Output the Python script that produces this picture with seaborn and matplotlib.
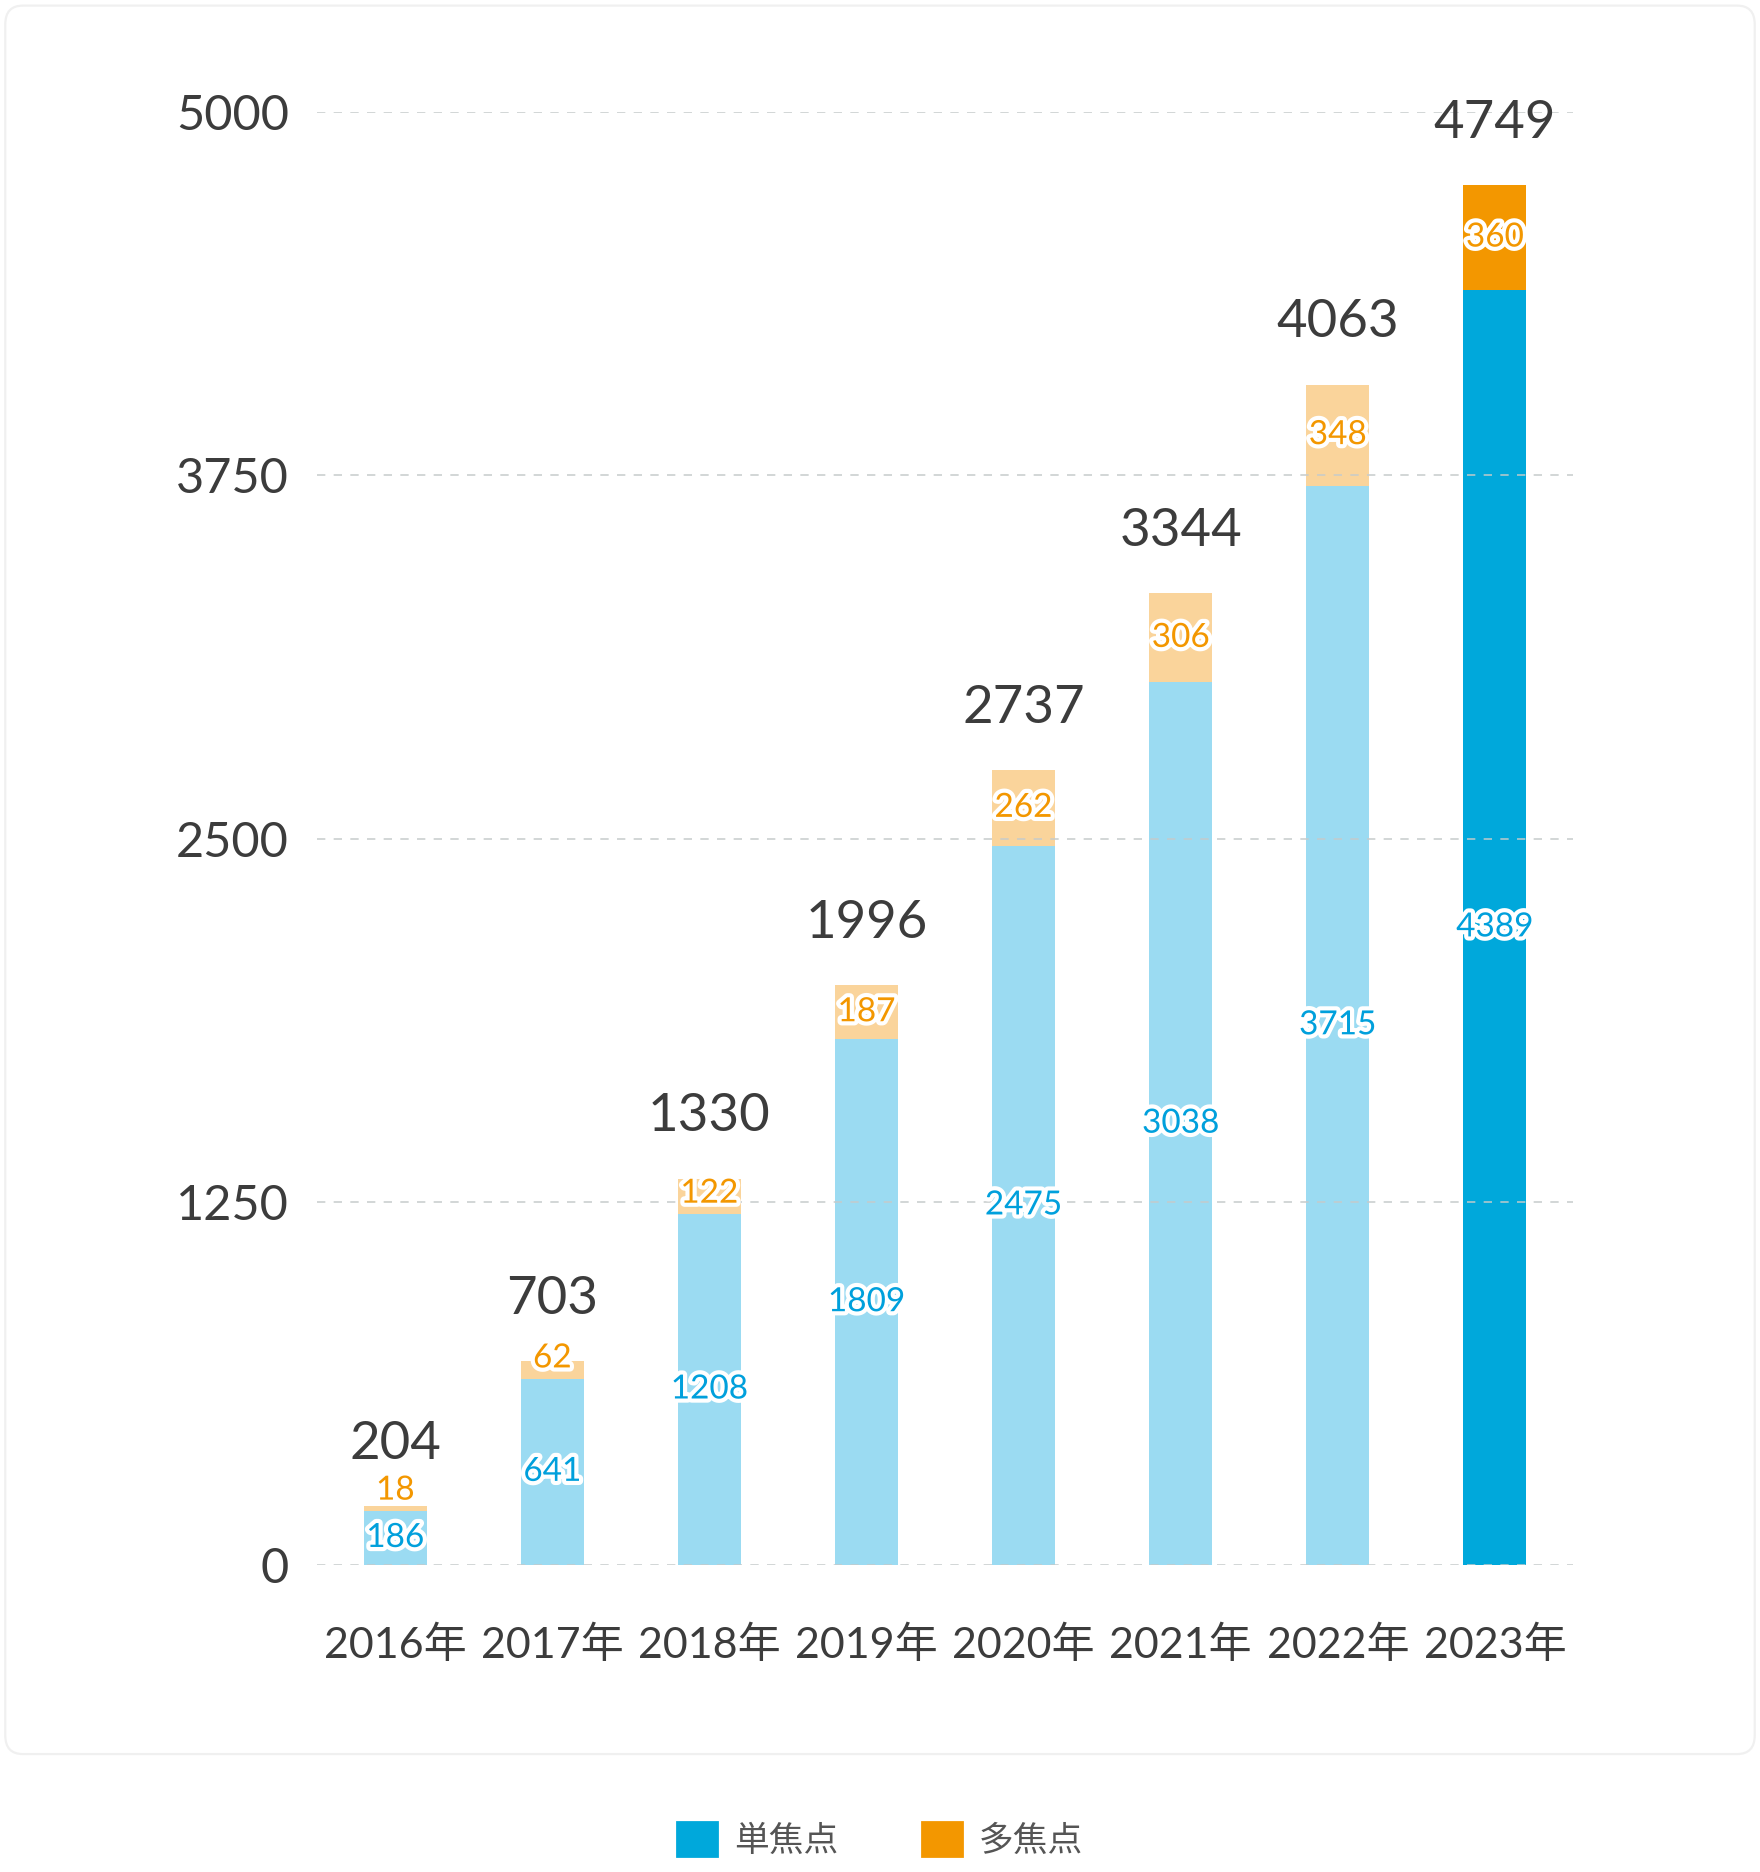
import matplotlib.pyplot as plt
import matplotlib.patheffects as pe
import pandas as pd
import seaborn as sns
from matplotlib.patches import Patch, FancyBboxPatch

sns.set_theme(style="white")
plt.rcParams['font.family'] = ['Lato', 'Noto Sans CJK JP', 'DejaVu Sans']

years = ["2016年", "2017年", "2018年", "2019年", "2020年", "2021年", "2022年", "2023年"]
single = [186, 641, 1208, 1809, 2475, 3038, 3715, 4389]
multi = [18, 62, 122, 187, 262, 306, 348, 360]
yticks = [0, 1250, 2500, 3750, 5000]

single_light, single_dark = "#9BDBF2", "#00A8DB"
multi_light, multi_dark = "#FAD49B", "#F39700"
label_blue, label_orange = "#00A0DC", "#F39700"
dark_text = "#3C3C3C"

df = pd.DataFrame({"year": years, "single": single, "multi": multi})
df["total"] = df["single"] + df["multi"]

single_pal = [single_light] * (len(years) - 1) + [single_dark]
multi_pal = [multi_light] * (len(years) - 1) + [multi_dark]

fig = plt.figure(figsize=(8.8, 9.36), dpi=200)
# faint card behind the chart
fig.patches.append(FancyBboxPatch((0.003, 0.063), 0.994, 0.934,
                                  boxstyle="round,pad=0,rounding_size=0.01",
                                  transform=fig.transFigure, fc="white",
                                  ec="#F0F0F0", lw=0.8, zorder=-5))
ax = fig.add_axes([0.18, 0.164, 0.714, 0.776])
ax.patch.set_alpha(0)

# totals first (multi colour), single on top
sns.barplot(data=df, x="year", y="total", hue="year", palette=multi_pal,
            legend=False, width=0.4, ax=ax, saturation=1, linewidth=0, zorder=2)
sns.barplot(data=df, x="year", y="single", hue="year", palette=single_pal,
            legend=False, width=0.4, ax=ax, saturation=1, linewidth=0, zorder=2)

ax.set_xlim(-0.5, len(years) - 0.5)
ax.set_ylim(0, 5000)
ax.set_yticks(yticks)
ax.set_yticklabels([str(v) for v in yticks])
ax.set_xlabel("")
ax.set_ylabel("")
for s in ax.spines.values():
    s.set_visible(False)
ax.tick_params(axis="y", length=0, pad=10, labelsize=17.5, labelcolor=dark_text)
ax.tick_params(axis="x", length=0, pad=22, labelsize=15.5, labelcolor=dark_text)
for v in yticks:
    ax.axhline(v, color="#C5CBCB", lw=0.6, ls=(0, (5, 5)), zorder=3, alpha=0.9)

stroke = [pe.withStroke(linewidth=3, foreground="white")]
for i, row in df.iterrows():
    s, m, t = row["single"], row["multi"], row["total"]
    ax.text(i, s / 2, str(s), ha="center", va="center", fontsize=12,
            color=label_blue, path_effects=stroke, zorder=5)
    ym = max(s + m / 2, s + 70)
    ax.text(i, ym, str(m), ha="center", va="center", fontsize=12,
            color=label_orange, path_effects=stroke, zorder=5)
    ax.annotate(str(t), (i, t), xytext=(0, 17), textcoords="offset points",
                ha="center", va="baseline", fontsize=19, color=dark_text,
                annotation_clip=False, zorder=5)

handles = [Patch(color=single_dark, label="単焦点"),
           Patch(color=multi_dark, label="多焦点")]
fig.legend(handles=handles, loc="center", bbox_to_anchor=(0.5, 0.017),
           ncol=2, frameon=False, handlelength=1.15,
           handleheight=1.15, handletextpad=0.5, columnspacing=2.4,
           labelcolor="#555555", prop={"family": ["Noto Sans CJK JP"], "size": 12.5})

fig.savefig("out.png", dpi=200, facecolor="white")
